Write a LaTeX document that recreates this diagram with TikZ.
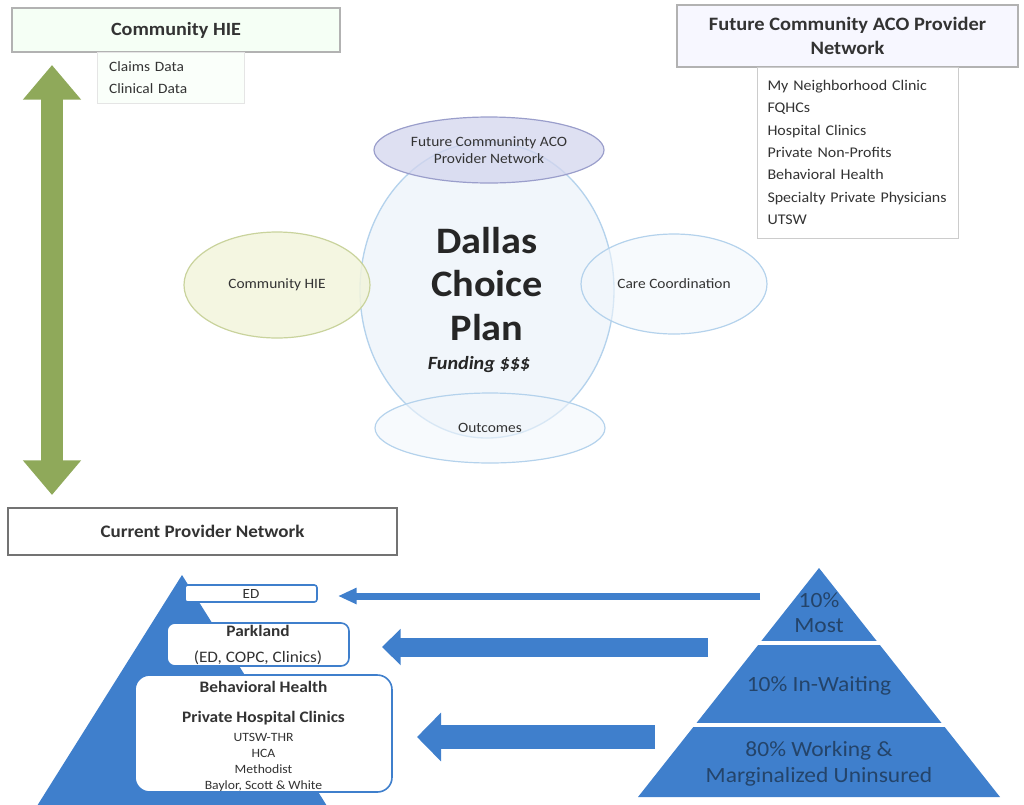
\documentclass[tikz,border=0pt]{standalone}
\usepackage{fontspec}
\setmainfont{Carlito}[FakeStretch=1.08]
\usetikzlibrary{shapes.geometric,arrows.meta}
\definecolor{pblue}{HTML}{3F7FCC}
\definecolor{txt}{HTML}{333333}
\definecolor{ptxt}{HTML}{24446A}
\definecolor{hiegreen}{HTML}{8FA95A}
\definecolor{futfill}{HTML}{D3D5EE}
\definecolor{futdraw}{HTML}{9A9ECB}
\definecolor{cbord}{HTML}{B4D2EC}
\definecolor{cfill}{HTML}{F1F6FB}
\definecolor{gbord}{HTML}{C9D39C}
\definecolor{gfill}{HTML}{F2F4DC}
\begin{document}
\begin{tikzpicture}[x=0.75pt,y=-0.75pt,
  every node/.style={text=txt, inner sep=0pt, outer sep=0pt},
  hdr/.style={draw=black!30, line width=0.8pt, minimum width=#1, align=center},
  listbox/.style={draw=black!20, line width=0.6pt, fill=white, align=left},
  bub/.style={ellipse, draw, line width=0.9pt, font=\fontsize{10.7}{12.5}\selectfont, align=center},
  provbox/.style={draw=pblue, fill=white, line width=1.2pt, align=center},
  pyr/.style={text=ptxt, font=\fontsize{16.3}{19}\selectfont, align=center}
]
\useasboundingbox (0,0) rectangle (1024,804);

% ---------- top left: Community HIE ----------
\node[hdr=246pt, minimum height=33pt, fill=green!4!white, font=\fontsize{14}{16}\selectfont\bfseries] (hie) at (176,30) {Community HIE};
\node[listbox, draw=black!10, fill=green!2!white, minimum width=110.25pt, minimum height=38.25pt,
      text width=102pt, font=\fontsize{10.7}{16.5}\selectfont] (data) at (170.5,77.5) {\hspace*{5pt}Claims Data\\\hspace*{5pt}Clinical Data};

% green double arrow
\coordinate (ga) at (52,65);
\coordinate (gb) at (52,495);
\draw[hiegreen, line width=16.5pt, {Triangle[length=26pt,width=42pt]}-{Triangle[length=26pt,width=42pt]}] (ga) -- (gb);

% ---------- top right: Future Community ACO ----------
\node[hdr=255.75pt, minimum height=46.5pt, fill=blue!3!white, font=\fontsize{14.2}{18}\selectfont\bfseries] (aco) at (847.5,36) {Future Community ACO Provider\\Network};
\node[listbox, minimum width=150.75pt, minimum height=128.25pt, text width=143pt,
      font=\fontsize{11.1}{16.75}\selectfont] (acolist) at (857.5,152.5)
  {\hspace*{4pt}My Neighborhood Clinic\\\hspace*{4pt}FQHCs\\\hspace*{4pt}Hospital Clinics\\\hspace*{4pt}Private Non-Profits\\\hspace*{4pt}Behavioral Health\\\hspace*{4pt}Specialty Private Physicians\\\hspace*{4pt}UTSW};

% ---------- central bubbles ----------
\node[ellipse, draw=cbord, fill=cfill, line width=1pt, minimum width=190.5pt, minimum height=222pt] (plan) at (487,290) {};
\node[bub, draw=futdraw, fill=futfill, fill opacity=0.75, text opacity=1, minimum width=172.5pt, minimum height=49.5pt] (fut) at (489,150) {Future Communinty ACO\\Provider Network};
\node[bub, draw=gbord, fill=gfill, fill opacity=0.85, text opacity=1, minimum width=139.5pt, minimum height=79.5pt] (chie) at (277,285) {Community HIE};
\node[bub, draw=cbord, fill=cfill, fill opacity=0.6, text opacity=1, minimum width=139.5pt, minimum height=75pt] (care) at (674,284) {Care Coordination};
\node[bub, draw=cbord, fill=cfill, fill opacity=0.6, text opacity=1, minimum width=172.5pt, minimum height=52.5pt] (out) at (490,428) {Outcomes};

\node[font=\fontsize{28}{32.5}\selectfont\bfseries, align=center, text=black!85] (title) at (487,284) {Dallas\\Choice\\Plan};
\node[font=\fontsize{14}{16}\selectfont\bfseries\itshape, text=black!85] (fund) at (479,365) {Funding \$\$\$};

% ---------- current provider network ----------
\node[hdr=291.75pt, minimum height=35.25pt, draw=black!55, fill=white, font=\fontsize{13.2}{16}\selectfont\bfseries] (cpn) at (202.5,531.5) {Current Provider Network};

% left pyramid
\fill[pblue] (182,575) -- (37,806) -- (327,806) -- cycle;
\node[provbox, rounded corners=2pt, minimum width=99pt, minimum height=12.75pt, font=\fontsize{10.5}{11}\selectfont] (ed) at (251,593.5) {ED};
\node[provbox, rounded corners=6pt, minimum width=136.5pt, minimum height=32.25pt, font=\fontsize{12}{19.5}\selectfont] (park) at (258,644.5) {\textbf{Parkland}\\(ED, COPC, Clinics)};
\node[provbox, rounded corners=11pt, minimum width=192.75pt, minimum height=87.75pt] (beh) at (263.5,733.5) {};
\node[font=\fontsize{12}{22.5}\selectfont\bfseries, align=center] (behtxt) at (263.5,703) {Behavioral Health\\Private Hospital Clinics};
\node[font=\fontsize{9.5}{12}\selectfont, align=center] (hosp) at (263.5,762) {UTSW-THR\\HCA\\Methodist\\Baylor, Scott \& White};

% right pyramid
\fill[pblue] (819,568) -- (638,797) -- (1000,797) -- cycle;
\draw[white, line width=3pt] (740,643) -- (900,643);
\draw[white, line width=3pt] (680,725) -- (960,725);
\node[pyr] (most) at (819,612.5) {10\%\\Most};
\node[pyr] (wait) at (819,686) {10\% In-Waiting};
\node[pyr, font=\fontsize{16.3}{19.5}\selectfont] (work) at (819,764) {80\% Working \&\\Marginalized Uninsured};

% arrows from pyramid tiers to providers
\coordinate (s1) at (760,596);
\coordinate (s2) at (708,647);
\coordinate (s3) at (655,737);
\draw[pblue, line width=5.25pt, -{Triangle[length=14pt,width=11.5pt]}, shorten >=15.75pt] (s1) -- (s1 -| ed.east);
\draw[pblue, line width=14.25pt, -{Triangle[length=14pt,width=26.5pt]}, shorten >=24.75pt] (s2) -- (s2 -| park.east);
\draw[pblue, line width=17.5pt, -{Triangle[length=18pt,width=35.5pt]}, shorten >=18.75pt] (s3) -- (s3 -| beh.east);
\end{tikzpicture}
\end{document}
